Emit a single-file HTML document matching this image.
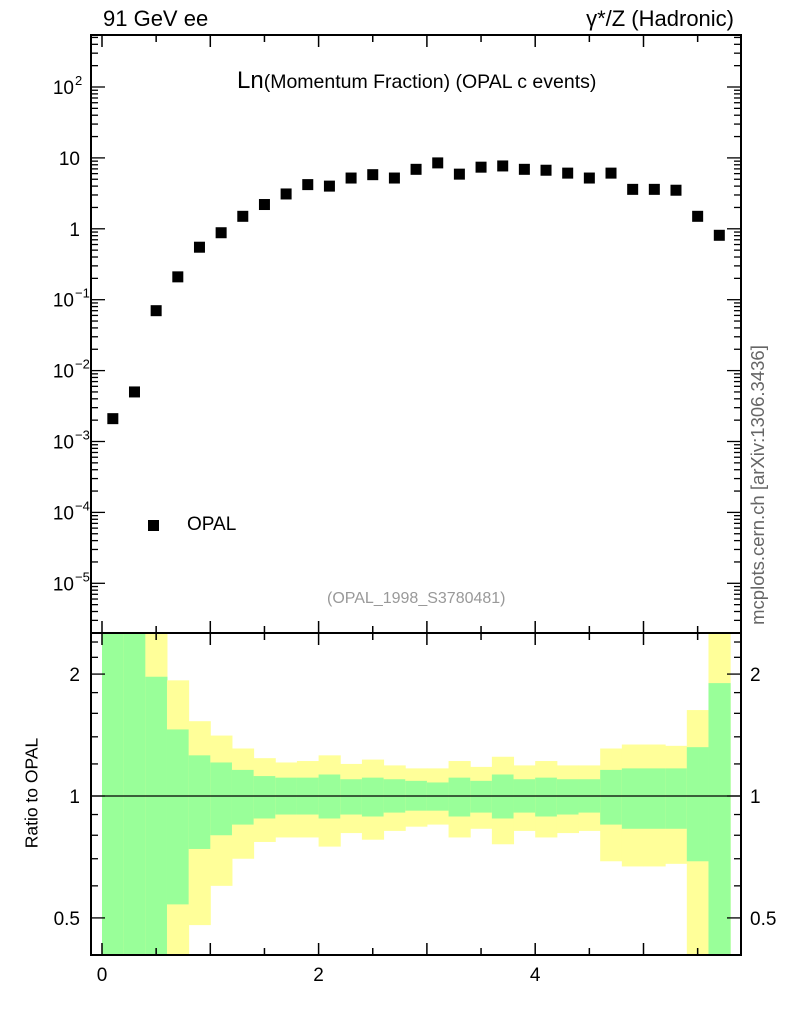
<!DOCTYPE html>
<html><head><meta charset="utf-8"><style>
body{margin:0;background:#fff;}
svg{display:block;font-family:"Liberation Sans",sans-serif;}
</style></head><body>
<svg id="c" width="786" height="1024"></svg>
<script>
const binLo = [0,0.2,0.4,0.6,0.8,1.0,1.2,1.4,1.6,1.8,2.0,2.2,2.4,2.6,2.8,3.0,3.2,3.4,3.6,3.8,4.0,4.2,4.4,4.6,4.8,5.0,5.2,5.4,5.6];
const values = [0.0021,0.005,0.07,0.21,0.55,0.88,1.5,2.2,3.1,4.2,4.0,5.2,5.8,5.2,6.9,8.5,5.9,7.4,7.7,6.9,6.7,6.1,5.2,6.1,3.6,3.6,3.5,1.5,0.81];
const greenUp = [3,3,1.97,1.46,1.26,1.21,1.16,1.12,1.11,1.11,1.13,1.10,1.11,1.10,1.09,1.08,1.11,1.09,1.13,1.10,1.11,1.10,1.10,1.16,1.17,1.17,1.17,1.32,1.90];
const yellowUp = [3,3,3,1.93,1.53,1.41,1.31,1.24,1.21,1.22,1.26,1.20,1.23,1.19,1.17,1.17,1.22,1.18,1.25,1.19,1.22,1.19,1.19,1.31,1.34,1.34,1.33,1.63,3];
const greenDn = [0.3,0.3,0.3,0.54,0.74,0.80,0.85,0.88,0.90,0.90,0.88,0.90,0.89,0.91,0.92,0.92,0.89,0.91,0.88,0.91,0.89,0.90,0.91,0.85,0.83,0.83,0.83,0.69,0.3];
const yellowDn = [0.3,0.3,0.3,0.3,0.48,0.60,0.70,0.77,0.79,0.79,0.75,0.81,0.78,0.82,0.84,0.85,0.79,0.83,0.76,0.82,0.79,0.81,0.82,0.69,0.67,0.67,0.68,0.3,0.3];
const binW = 0.2;
const xTicks = [0,2,4];
const yDecades = [-5,-4,-3,-2,-1,0,1,2];
const yDecLabels = ["10","10","10","10","10","1","10","10"];
const yDecSup = ["−5","−4","−3","−2","−1","","","2"];
const rTicks = [0.5,1,2];

const L=91,R=741,T=35,M=633,B=955;
const sx=v=>102+(v)*108.3;
const sy=v=>87+(2-Math.log10(v))*70.9;
const sr=v=>796-Math.log10(v)*405;
const svg=document.getElementById('c');
const NS='http://www.w3.org/2000/svg';
function mk(t,a,p){const e=document.createElementNS(NS,t);for(const k in a)e.setAttribute(k,a[k]);(p||svg).appendChild(e);return e;}
const clamp=(v,a,b)=>Math.max(a,Math.min(b,v));

const bands=mk('g',{});


binLo.forEach((x0,i)=>{
  const x1=sx(x0),x2=sx(x0+binW);
  const y=mk('rect',{x:x1,y:clamp(sr(yellowUp[i]),M,B),width:x2-x1+0.5,height:clamp(sr(yellowDn[i]),M,B)-clamp(sr(yellowUp[i]),M,B),fill:'#ffff99'},bands);
  
  
  const g=mk('rect',{x:x1,y:clamp(sr(greenUp[i]),M,B),width:x2-x1+0.5,height:clamp(sr(greenDn[i]),M,B)-clamp(sr(greenUp[i]),M,B),fill:'#99ff99'},bands);
  
  
});
mk('line',{x1:L,x2:R,y1:sr(1),y2:sr(1),stroke:'#000','stroke-width':1.2});

mk('rect',{x:L,y:T,width:R-L,height:M-T,fill:'none',stroke:'#000','stroke-width':2});
mk('rect',{x:L,y:M,width:R-L,height:B-M,fill:'none',stroke:'#000','stroke-width':2});

for(let v=0;v<=5.8;v+=0.5){
  const x=sx(v),maj=Math.abs(v-Math.round(v))<0.01;const len=maj?12:7;
  [[T,T+len],[M,M-len],[M,M+len],[B,B-len]].forEach(([a,b])=>mk('line',{x1:x,x2:x,y1:a,y2:b,stroke:'#000','stroke-width':1.5}));
}
xTicks.forEach(v=>{const t=mk('text',{x:sx(v),y:981,'font-size':19,'text-anchor':'middle'});t.textContent=v;
});

for(let d=-6;d<=2;d++){for(let m=1;m<10;m++){const v=m*Math.pow(10,d);const y=sy(v);if(y<T||y>M)continue;const len=m==1?14:7;
 mk('line',{x1:L,x2:L+len,y1:y,y2:y,stroke:'#000','stroke-width':1.3});mk('line',{x1:R,x2:R-len,y1:y,y2:y,stroke:'#000','stroke-width':1.3});}}
yDecades.forEach((d,i)=>{const y=sy(Math.pow(10,d));
 const t=mk('text',{x:yDecSup[i]?74:80,y:y+7,'font-size':19,'text-anchor':'end'});t.textContent=yDecLabels[i];
 
 if(yDecSup[i]){const s=mk('text',{x:75,y:y-2,'font-size':13});s.textContent=yDecSup[i];}});

[0.5,0.6,0.7,0.8,0.9,1,1.2,1.4,1.6,1.8,2,2.2,2.4].forEach(v=>{const y=sr(v);if(y<M||y>B)return;const maj=rTicks.includes(v);const len=maj?14:7;
 mk('line',{x1:L,x2:L+len,y1:y,y2:y,stroke:'#000','stroke-width':1.3});mk('line',{x1:R,x2:R-len,y1:y,y2:y,stroke:'#000','stroke-width':1.3});});
rTicks.forEach(v=>{const y=sr(v)+7;
 const a=mk('text',{x:80,y:y,'font-size':19,'text-anchor':'end'});a.textContent=v;
 
 const b=mk('text',{x:750,y:y,'font-size':19});b.textContent=v;
 });

values.forEach((v,i)=>{const x=sx(binLo[i]+binW/2),y=sy(v);
 const r=mk('rect',{x:x-5.5,y:y-5.5,width:11,height:11,fill:'#000'});
 });
</script>
<div style="position:absolute;left:0;top:0;width:786px;height:1024px;pointer-events:none;font-family:'Liberation Sans',sans-serif;">
 <div style="position:absolute;left:103px;top:6px;font-size:22px;">91 GeV ee</div>
 <div style="position:absolute;right:52px;top:6px;font-size:22px;">γ*/Z (Hadronic)</div>
 <div style="position:absolute;left:237px;top:67px;font-size:19.5px;white-space:nowrap;"><span style="font-size:24px">Ln</span>(Momentum Fraction) (OPAL c events)</div>
 <div style="position:absolute;left:148px;top:520px;width:11px;height:11px;background:#000;"></div>
 <div style="position:absolute;left:187px;top:514px;font-size:19px;">OPAL</div>
 <div style="position:absolute;left:327px;top:590px;font-size:16px;color:#999;">(OPAL_1998_S3780481)</div>
 <div style="position:absolute;left:758px;top:485px;font-size:18.5px;color:#666;white-space:nowrap;transform:translate(-50%,-50%) rotate(-90deg);">mcplots.cern.ch [arXiv:1306.3436]</div>
 <div style="position:absolute;left:32px;top:793px;font-size:17.5px;white-space:nowrap;transform:translate(-50%,-50%) rotate(-90deg);">Ratio to OPAL</div>
</div>
</body></html>
